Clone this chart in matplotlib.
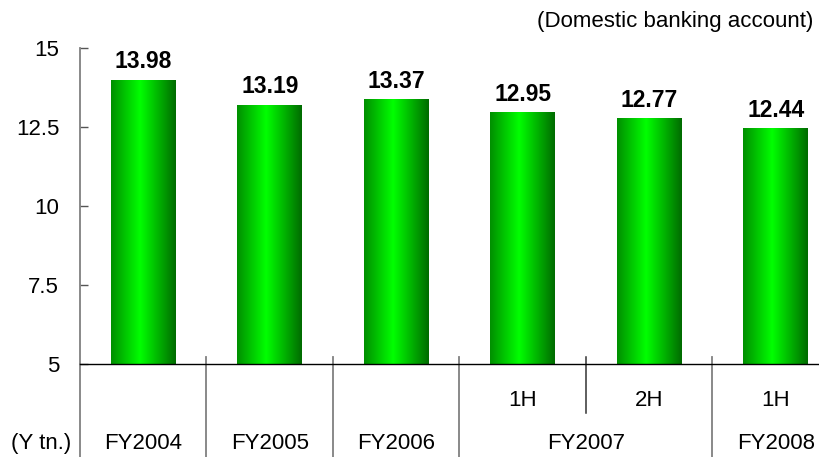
import numpy as np
import matplotlib
matplotlib.use("Agg")
import matplotlib.pyplot as plt
import matplotlib.transforms as mtransforms

# chart data
values = [13.98, 13.19, 13.37, 12.95, 12.77, 12.44]
half_labels = ["", "", "", "1H", "2H", "1H"]
year_labels = ["FY2004", "FY2005", "FY2006", "FY2007", "FY2008"]
year_centers = [0, 1, 2, 3.5, 5]
year_bounds = [-0.5, 0.5, 1.5, 2.5, 4.5, 5.5]
half_bounds = [3.5]
yticks = [5, 7.5, 10, 12.5, 15]
ytick_labels = ["5", "7.5", "10", "12.5", "15"]

plt.rcParams['font.family'] = ['Liberation Sans', 'DejaVu Sans']

fig = plt.figure(figsize=(8.2, 4.57), dpi=100)
ax = fig.add_axes([80 / 820, 93 / 457, 759 / 820, 316 / 457])
ax.set_xlim(-0.5, 5.5)
ax.set_ylim(5, 15)

x = np.arange(len(values))
bars = ax.bar(x, values, width=0.51, facecolor='none', edgecolor='none', zorder=2)

# horizontal green gradient, dark at the edges
stops = [0.0, 0.45, 1.0]
greens = [0.56, 1.0, 0.42]
g = np.interp(np.linspace(0, 1, 256), stops, greens)
grad = np.zeros((1, 256, 3))
grad[0, :, 1] = g
ymin = ax.get_ylim()[0]
for b in bars:
    x0 = b.get_x()
    top = b.get_y() + b.get_height()
    ax.imshow(grad, extent=[x0, x0 + b.get_width(), max(b.get_y(), ymin), top],
              aspect='auto', zorder=2, interpolation='bilinear')
ax.set_xlim(-0.5, 5.5)
ax.set_ylim(5, 15)

for xi, v in zip(x, values):
    ax.annotate(f"{v:.2f}", (xi, v), xytext=(0, 5), textcoords='offset points',
                ha='center', va='bottom', fontsize=16.5, fontweight='bold')

ax.set_yticks(yticks)
ax.set_yticklabels(ytick_labels)
ax.set_xticks([])
ax.tick_params(axis='y', direction='in', length=6, width=1, color='#555555',
               labelsize=16, pad=15)

for s in ['top', 'right']:
    ax.spines[s].set_visible(False)
ax.spines['left'].set_color('#808080')
ax.spines['left'].set_linewidth(1.3)
ax.spines['bottom'].set_color('black')
ax.spines['bottom'].set_linewidth(1)
ax.spines['bottom'].set_zorder(3)

trans = mtransforms.blended_transform_factory(ax.transData, ax.transAxes)
for xb in year_bounds:
    top = 0.0 if xb == -0.5 else 0.022
    ax.plot([xb, xb], [top, -0.3], transform=trans, color='#808080', lw=1.3, clip_on=False)
for xb in half_bounds:
    ax.plot([xb, xb], [0.022, -0.155], transform=trans, color='#333333', lw=1.1, clip_on=False)

for xi, lab in zip(x, half_labels):
    if lab:
        ax.text(xi, -0.114, lab, transform=trans, ha='center', va='center', fontsize=16)
for xc, lab in zip(year_centers, year_labels):
    ax.text(xc, -0.253, lab, transform=trans, ha='center', va='center', fontsize=16)

fig.text(71 / 820, 1 - 444 / 457, "(Y tn.)", ha='right', va='center', fontsize=16)
fig.text(813 / 820, 1 - 21 / 457, "(Domestic banking account)", ha='right', va='center',
         fontsize=16)

fig.savefig("out.png", dpi=100)
